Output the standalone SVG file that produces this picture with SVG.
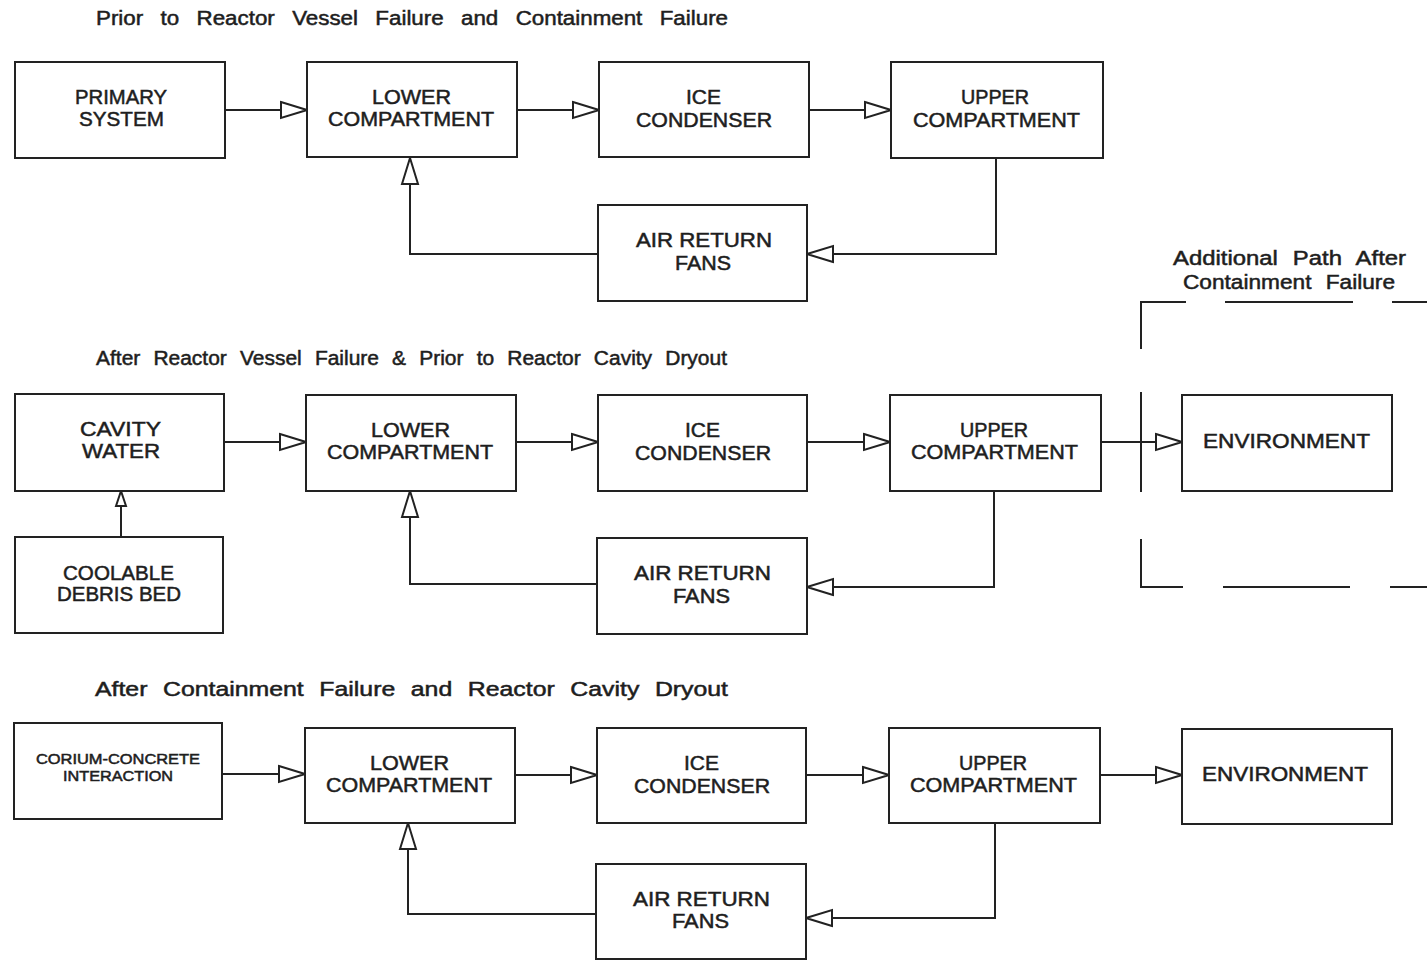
<svg xmlns="http://www.w3.org/2000/svg" width="1427" height="960" viewBox="0 0 1427 960">
<style>
rect.b{fill:#fff;stroke:#222;stroke-width:2}
text{font-family:"Liberation Sans",Arial,sans-serif;fill:#1e1e1e;stroke:#1e1e1e;stroke-width:0.5;text-anchor:start}
.n{font-size:20px}
.s{font-size:14px}
.t{font-size:20px;word-spacing:7px}
.c{fill:none;stroke:#222;stroke-width:2}
</style>
<defs>
<marker id="ah" viewBox="0 0 30 20" refX="28" refY="10" markerWidth="30" markerHeight="20" markerUnits="userSpaceOnUse" orient="auto">
<path d="M2,2 L28,10 L2,18 Z" fill="#fff" stroke="#222" stroke-width="2"/>
</marker>
<marker id="as" viewBox="0 0 18 14" refX="17" refY="7" markerWidth="18" markerHeight="14" markerUnits="userSpaceOnUse" orient="auto">
<path d="M2,2 L17,7 L2,12 Z" fill="#fff" stroke="#222" stroke-width="2"/>
</marker>
</defs>
<rect width="1427" height="960" fill="#fff"/>

<g id="titles">
<text class="t" x="96" y="25" textLength="632" lengthAdjust="spacingAndGlyphs" style="word-spacing:10px">Prior to Reactor Vessel Failure and Containment Failure</text>
<text class="t" x="96" y="365" textLength="631" lengthAdjust="spacingAndGlyphs">After Reactor Vessel Failure &amp; Prior to Reactor Cavity Dryout</text>
<text class="t" x="95" y="696" textLength="633" lengthAdjust="spacingAndGlyphs">After Containment Failure and Reactor Cavity Dryout</text>
<text class="t" x="1173" y="265" textLength="233" lengthAdjust="spacingAndGlyphs">Additional Path After</text>
<text class="t" x="1183" y="289" textLength="212" lengthAdjust="spacingAndGlyphs">Containment Failure</text>
</g>

<g id="connectors">
<path class="c" d="M225,110 H307" marker-end="url(#ah)"/>
<path class="c" d="M517,110 H599" marker-end="url(#ah)"/>
<path class="c" d="M809,110 H891" marker-end="url(#ah)"/>
<path class="c" d="M996,158 V254 H807" marker-end="url(#ah)"/>
<path class="c" d="M598,254 H410 V158" marker-end="url(#ah)"/>

<path class="c" d="M224,442 H306" marker-end="url(#ah)"/>
<path class="c" d="M516,442 H598" marker-end="url(#ah)"/>
<path class="c" d="M807,442 H890" marker-end="url(#ah)"/>
<path class="c" d="M1101,442 H1182" marker-end="url(#ah)"/>
<path class="c" d="M121,537 V491" marker-end="url(#as)"/>
<path class="c" d="M994,491 V587 H807" marker-end="url(#ah)"/>
<path class="c" d="M597,584 H410 V491" marker-end="url(#ah)"/>

<path class="c" d="M222,774 H305" marker-end="url(#ah)"/>
<path class="c" d="M515,775 H597" marker-end="url(#ah)"/>
<path class="c" d="M806,775 H889" marker-end="url(#ah)"/>
<path class="c" d="M1100,775 H1182" marker-end="url(#ah)"/>
<path class="c" d="M995,823 V918 H806" marker-end="url(#ah)"/>
<path class="c" d="M596,914 H408 V823" marker-end="url(#ah)"/>

<g id="boundary">
<path class="c" d="M1141,349 V302 H1186"/>
<path class="c" d="M1225,302 H1353"/>
<path class="c" d="M1392,302 H1427"/>
<path class="c" d="M1141,392 V492"/>
<path class="c" d="M1141,539 V587 H1183"/>
<path class="c" d="M1223,587 H1350"/>
<path class="c" d="M1390,587 H1427"/>
</g>
</g>

<g id="primary-system">
<rect class="b" x="15" y="62" width="210" height="96"/>
<text class="n" x="75" y="104" textLength="92" lengthAdjust="spacingAndGlyphs">PRIMARY</text>
<text class="n" x="79" y="126" textLength="85" lengthAdjust="spacingAndGlyphs">SYSTEM</text>
</g>
<g id="lower-1">
<rect class="b" x="307" y="62" width="210" height="95"/>
<text class="n" x="372" y="104" textLength="79" lengthAdjust="spacingAndGlyphs">LOWER</text>
<text class="n" x="328" y="126" textLength="166" lengthAdjust="spacingAndGlyphs">COMPARTMENT</text>
</g>
<g id="ice-1">
<rect class="b" x="599" y="62" width="210" height="95"/>
<text class="n" x="686" y="104" textLength="35" lengthAdjust="spacingAndGlyphs">ICE</text>
<text class="n" x="636" y="127" textLength="136" lengthAdjust="spacingAndGlyphs">CONDENSER</text>
</g>
<g id="upper-1">
<rect class="b" x="891" y="62" width="212" height="96"/>
<text class="n" x="961" y="104" textLength="68" lengthAdjust="spacingAndGlyphs">UPPER</text>
<text class="n" x="913" y="127" textLength="167" lengthAdjust="spacingAndGlyphs">COMPARTMENT</text>
</g>
<g id="fans-1">
<rect class="b" x="598" y="205" width="209" height="96"/>
<text class="n" x="636" y="247" textLength="136" lengthAdjust="spacingAndGlyphs">AIR RETURN</text>
<text class="n" x="675" y="270" textLength="56" lengthAdjust="spacingAndGlyphs">FANS</text>
</g>

<g id="cavity-water">
<rect class="b" x="15" y="394" width="209" height="97"/>
<text class="n" x="80" y="436" textLength="81" lengthAdjust="spacingAndGlyphs">CAVITY</text>
<text class="n" x="82" y="458" textLength="78" lengthAdjust="spacingAndGlyphs">WATER</text>
</g>
<g id="debris-bed">
<rect class="b" x="15" y="537" width="208" height="96"/>
<text class="n" x="63" y="580" textLength="111" lengthAdjust="spacingAndGlyphs">COOLABLE</text>
<text class="n" x="57" y="601" textLength="124" lengthAdjust="spacingAndGlyphs">DEBRIS BED</text>
</g>
<g id="lower-2">
<rect class="b" x="306" y="395" width="210" height="96"/>
<text class="n" x="371" y="437" textLength="79" lengthAdjust="spacingAndGlyphs">LOWER</text>
<text class="n" x="327" y="459" textLength="166" lengthAdjust="spacingAndGlyphs">COMPARTMENT</text>
</g>
<g id="ice-2">
<rect class="b" x="598" y="395" width="209" height="96"/>
<text class="n" x="685" y="437" textLength="35" lengthAdjust="spacingAndGlyphs">ICE</text>
<text class="n" x="635" y="460" textLength="136" lengthAdjust="spacingAndGlyphs">CONDENSER</text>
</g>
<g id="upper-2">
<rect class="b" x="890" y="395" width="211" height="96"/>
<text class="n" x="960" y="437" textLength="68" lengthAdjust="spacingAndGlyphs">UPPER</text>
<text class="n" x="911" y="459" textLength="167" lengthAdjust="spacingAndGlyphs">COMPARTMENT</text>
</g>
<g id="environment-2">
<rect class="b" x="1182" y="395" width="210" height="96"/>
<text class="n" x="1203" y="448" textLength="167" lengthAdjust="spacingAndGlyphs">ENVIRONMENT</text>
</g>
<g id="fans-2">
<rect class="b" x="597" y="538" width="210" height="96"/>
<text class="n" x="634" y="580" textLength="137" lengthAdjust="spacingAndGlyphs">AIR RETURN</text>
<text class="n" x="673" y="603" textLength="57" lengthAdjust="spacingAndGlyphs">FANS</text>
</g>

<g id="corium">
<rect class="b" x="14" y="723" width="208" height="96"/>
<text class="s" x="36" y="764" textLength="164" lengthAdjust="spacingAndGlyphs">CORIUM-CONCRETE</text>
<text class="s" x="63" y="781" textLength="110" lengthAdjust="spacingAndGlyphs">INTERACTION</text>
</g>
<g id="lower-3">
<rect class="b" x="305" y="728" width="210" height="95"/>
<text class="n" x="370" y="770" textLength="79" lengthAdjust="spacingAndGlyphs">LOWER</text>
<text class="n" x="326" y="792" textLength="166" lengthAdjust="spacingAndGlyphs">COMPARTMENT</text>
</g>
<g id="ice-3">
<rect class="b" x="597" y="728" width="209" height="95"/>
<text class="n" x="684" y="770" textLength="35" lengthAdjust="spacingAndGlyphs">ICE</text>
<text class="n" x="634" y="793" textLength="136" lengthAdjust="spacingAndGlyphs">CONDENSER</text>
</g>
<g id="upper-3">
<rect class="b" x="889" y="728" width="211" height="95"/>
<text class="n" x="959" y="770" textLength="68" lengthAdjust="spacingAndGlyphs">UPPER</text>
<text class="n" x="910" y="792" textLength="167" lengthAdjust="spacingAndGlyphs">COMPARTMENT</text>
</g>
<g id="environment-3">
<rect class="b" x="1182" y="729" width="210" height="95"/>
<text class="n" x="1202" y="781" textLength="166" lengthAdjust="spacingAndGlyphs">ENVIRONMENT</text>
</g>
<g id="fans-3">
<rect class="b" x="596" y="864" width="210" height="95"/>
<text class="n" x="633" y="906" textLength="137" lengthAdjust="spacingAndGlyphs">AIR RETURN</text>
<text class="n" x="672" y="928" textLength="57" lengthAdjust="spacingAndGlyphs">FANS</text>
</g>
</svg>
